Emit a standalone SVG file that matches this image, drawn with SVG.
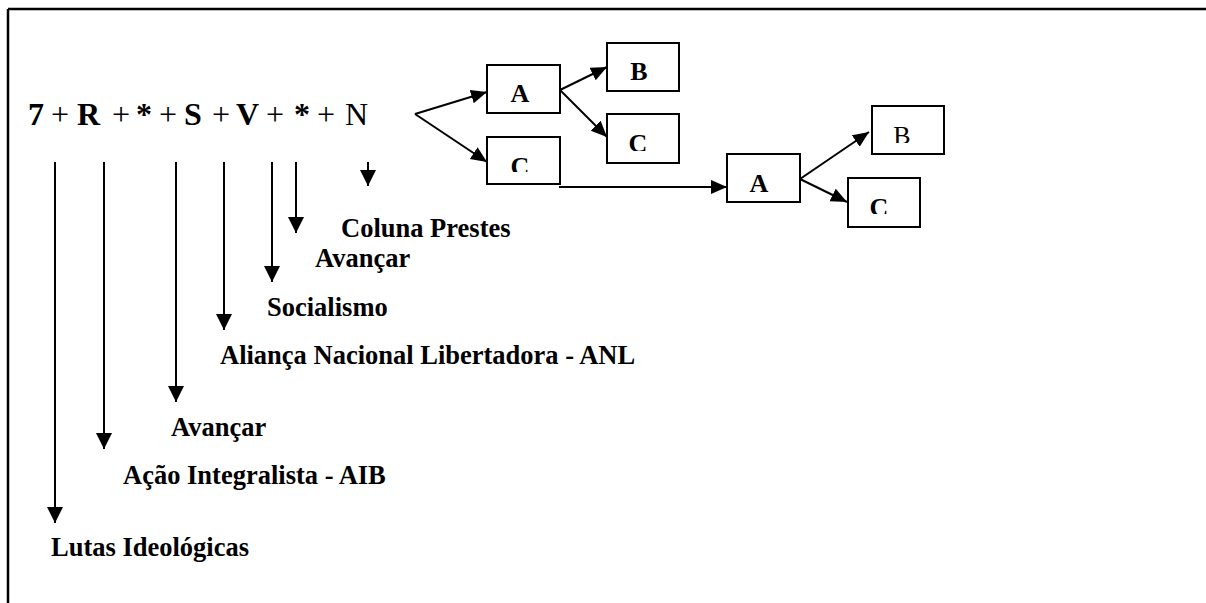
<svg xmlns="http://www.w3.org/2000/svg" width="1206" height="603" viewBox="0 0 1206 603">
<style>
text{font-family:"Liberation Serif","Times New Roman",serif;fill:#000}
.b{font-weight:bold}
.lbl{font-size:26.5px;font-weight:bold}
.box{fill:#fff;stroke:#000;stroke-width:2}
.bt{font-size:26px;font-weight:bold;text-anchor:middle}
.c{stroke:#000;stroke-width:2;fill:none}
.v{marker-end:url(#hv)}
.a{marker-end:url(#ha)}
</style>
<defs>
<marker id="hv" markerUnits="userSpaceOnUse" markerWidth="18" markerHeight="18" refX="16" refY="8" orient="auto" viewBox="0 0 18 18"><path d="M0,0 L16,8 L0,16 z" fill="#000"/></marker>
<marker id="ha" markerUnits="userSpaceOnUse" markerWidth="18" markerHeight="16" refX="16" refY="7" orient="auto" viewBox="0 0 18 16"><path d="M0,0 L16,7 L0,14 z" fill="#000"/></marker>
<clipPath id="cB1"><rect x="607" y="43" width="72" height="37"/></clipPath>
<clipPath id="cC1"><rect x="607" y="114" width="72" height="37"/></clipPath>
<clipPath id="cC2"><rect x="487" y="137" width="73" height="35"/></clipPath>
<clipPath id="cB2"><rect x="872" y="106" width="72" height="37"/></clipPath>
<clipPath id="cC3"><rect x="848" y="178" width="72" height="36"/></clipPath>
</defs>
<rect width="1206" height="603" fill="#fff"/>
<g id="frame" stroke="#000" stroke-width="2.5" fill="none">
<path d="M8,9 H1206 M8,9 V603"/>
</g>
<g id="formula">
<text y="125" font-size="32"><tspan x="28" class="b">7</tspan><tspan x="51">+</tspan><tspan x="77" class="b">R</tspan><tspan x="112">+</tspan><tspan x="136" class="b">*</tspan><tspan x="159">+</tspan><tspan x="184" class="b">S</tspan><tspan x="212">+</tspan><tspan x="236" class="b">V</tspan><tspan x="266">+</tspan><tspan x="294" class="b">*</tspan><tspan x="317">+</tspan><tspan x="345">N</tspan></text>
</g>
<g id="connectors">
<line class="c v" x1="55" y1="162" x2="55" y2="523"/>
<line class="c v" x1="104" y1="162" x2="104" y2="449"/>
<line class="c v" x1="176" y1="162" x2="176" y2="402"/>
<line class="c v" x1="224" y1="162" x2="224" y2="330"/>
<line class="c v" x1="272" y1="162" x2="272" y2="282"/>
<line class="c v" x1="296" y1="162" x2="296" y2="233"/>
<line class="c v" x1="368" y1="162" x2="368" y2="186"/>
<line class="c a" x1="415" y1="114" x2="487" y2="92"/>
<line class="c a" x1="415" y1="114" x2="487" y2="162"/>
<line class="c a" x1="560" y1="90" x2="607" y2="67"/>
<line class="c a" x1="560" y1="90" x2="607" y2="137"/>
<line class="c a" x1="559" y1="187" x2="727" y2="187"/>
<line class="c a" x1="800" y1="179" x2="869" y2="132"/>
<line class="c a" x1="800" y1="179" x2="847" y2="202"/>
</g>
<g id="lbl-coluna"><text class="lbl" x="341" y="237">Coluna Prestes</text></g>
<g id="lbl-avancar1"><text class="lbl" x="315" y="267">Avançar</text></g>
<g id="lbl-socialismo"><text class="lbl" x="267" y="316">Socialismo</text></g>
<g id="lbl-anl"><text class="lbl" x="220" y="364">Aliança Nacional Libertadora - ANL</text></g>
<g id="lbl-avancar2"><text class="lbl" x="171" y="436">Avançar</text></g>
<g id="lbl-aib"><text class="lbl" x="123" y="484">Ação Integralista - AIB</text></g>
<g id="lbl-lutas"><text class="lbl" x="51" y="556">Lutas Ideológicas</text></g>
<g id="box-A1"><rect class="box" x="487" y="65" width="73" height="48"/><text class="bt" x="520" y="102">A</text></g>
<g id="box-C2"><rect class="box" x="487" y="137" width="73" height="47"/><text class="bt" x="520" y="175" clip-path="url(#cC2)">C</text></g>
<g id="box-B1"><rect class="box" x="607" y="43" width="72" height="48"/><text class="bt" x="639" y="80" clip-path="url(#cB1)">B</text></g>
<g id="box-C1"><rect class="box" x="607" y="114" width="72" height="49"/><text class="bt" x="638" y="152" clip-path="url(#cC1)">C</text></g>
<g id="box-A2"><rect class="box" x="727" y="154" width="73" height="48"/><text class="bt" x="759" y="192">A</text></g>
<g id="box-B2"><rect class="box" x="872" y="106" width="72" height="48"/><text x="902" y="144" font-size="26" text-anchor="middle" clip-path="url(#cB2)">B</text></g>
<g id="box-C3"><rect class="box" x="848" y="178" width="72" height="49"/><text class="bt" x="879" y="216" clip-path="url(#cC3)">C</text></g>
</svg>
